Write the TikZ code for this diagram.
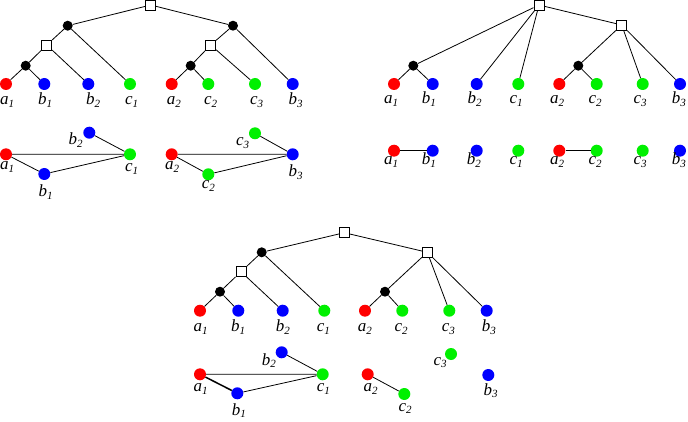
\documentclass[tikz,border=0pt]{standalone}
\usepackage{fontspec}
\setmainfont{Liberation Serif}
\definecolor{lr}{RGB}{255,0,0}
\definecolor{lb}{RGB}{0,0,255}
\definecolor{lg}{RGB}{0,240,0}
\newcommand{\mylab}[2]{{\itshape #1\raisebox{-2.5pt}{\fontsize{11}{11}\selectfont #2}}}
\begin{document}
\begin{tikzpicture}[x=1pt,y=-1pt,
  leafr/.style={circle,fill=lr,minimum size=12pt,inner sep=0},
  leafb/.style={circle,fill=lb,minimum size=12pt,inner sep=0},
  leafg/.style={circle,fill=lg,minimum size=12pt,inner sep=0},
  bk/.style={circle,fill=black,minimum size=10pt,inner sep=0},
  sq/.style={rectangle,draw=black,fill=white,line width=0.9pt,minimum size=10pt,inner sep=0},
  lbl/.style={anchor=base west,inner sep=0,font=\fontsize{17}{17}\selectfont},
  ed/.style={draw=black,line width=0.8pt}]
\useasboundingbox (0,0) rectangle (688,422);

% ---------- Panel 1 tree ----------
\node[sq] (t1r) at (150.7,5) {};
\node[bk] (t1l) at (67.7,25.7) {};
\node[bk] (t1rr) at (233,25.7) {};
\node[sq] (t1sl) at (46.7,45) {};
\node[sq] (t1sr) at (210.7,45) {};
\node[bk] (t1kl) at (25.7,65.7) {};
\node[bk] (t1kr) at (190.7,65.7) {};
\node[leafr] (t1a1) at (6,84) {};
\node[leafb] (t1b1) at (44.3,84) {};
\node[leafb] (t1b2) at (88.3,84) {};
\node[leafg] (t1c1) at (130,84) {};
\node[leafr] (t1a2) at (171.7,84) {};
\node[leafg] (t1c2) at (208.3,84) {};
\node[leafg] (t1c3) at (255,84) {};
\node[leafb] (t1b3) at (292.7,84) {};
\path[ed] (t1r)--(t1l) (t1r)--(t1rr) (t1l)--(t1sl) (t1l)--(t1c1)
  (t1sl)--(t1kl) (t1sl)--(t1b2) (t1kl)--(t1a1) (t1kl)--(t1b1)
  (t1rr)--(t1sr) (t1rr)--(t1b3) (t1sr)--(t1kr) (t1sr)--(t1c3)
  (t1kr)--(t1a2) (t1kr)--(t1c2);
\node[lbl] (l1a1) at (0,105) {\mylab{a}{1}};
\node[lbl] (l1b1) at (38,105) {\mylab{b}{1}};
\node[lbl] (l1b2) at (86,105) {\mylab{b}{2}};
\node[lbl] (l1c1) at (125,105) {\mylab{c}{1}};
\node[lbl] (l1a2) at (166.7,105) {\mylab{a}{2}};
\node[lbl] (l1c2) at (204,105) {\mylab{c}{2}};
\node[lbl] (l1c3) at (250,105) {\mylab{c}{3}};
\node[lbl] (l1b3) at (288.3,105) {\mylab{b}{3}};

% ---------- Panel 1 graphs ----------
\node[leafr] (g1a1) at (6,154.3) {};
\node[leafb] (g1b1) at (44.3,174) {};
\node[leafb] (g1b2) at (89.3,132.7) {};
\node[leafg] (g1c1) at (130,154.3) {};
\path[ed] (g1a1)--(g1c1) (g1a1)--(g1b1) (g1b1)--(g1c1) (g1b2)--(g1c1);
\node[leafr] (g1a2) at (171.7,154.3) {};
\node[leafg] (g1c2) at (208.3,174.3) {};
\node[leafg] (g1c3) at (255,133.3) {};
\node[leafb] (g1b3) at (292.7,154.3) {};
\path[ed] (g1a2)--(g1b3) (g1a2)--(g1c2) (g1c2)--(g1b3) (g1c3)--(g1b3);
\node[lbl] (m1a1) at (0,170) {\mylab{a}{1}};
\node[lbl] (m1b1) at (38.3,196.7) {\mylab{b}{1}};
\node[lbl] (m1b2) at (68.3,145) {\mylab{b}{2}};
\node[lbl] (m1c1) at (125,171.7) {\mylab{c}{1}};
\node[lbl] (m1a2) at (165,170) {\mylab{a}{2}};
\node[lbl] (m1c2) at (201.7,189) {\mylab{c}{2}};
\node[lbl] (m1c3) at (236,145.7) {\mylab{c}{3}};
\node[lbl] (m1b3) at (288.3,176.7) {\mylab{b}{3}};

% ---------- Panel 2 tree ----------
\node[sq] (t2r) at (539,5) {};
\node[sq] (t2s) at (621.7,25) {};
\node[bk] (t2kl) at (413.3,65.7) {};
\node[bk] (t2kr) at (578.3,65.7) {};
\node[leafr] (t2a1) at (394,84) {};
\node[leafb] (t2b1) at (432.7,84) {};
\node[leafb] (t2b2) at (476.7,84) {};
\node[leafg] (t2c1) at (518.3,84) {};
\node[leafr] (t2a2) at (559.3,84) {};
\node[leafg] (t2c2) at (596.7,84) {};
\node[leafg] (t2c3) at (642.7,84) {};
\node[leafb] (t2b3) at (680,84) {};
\path[ed] (t2r)--(t2kl) (t2r)--(t2b2) (t2r)--(t2c1) (t2r)--(t2s)
  (t2kl)--(t2a1) (t2kl)--(t2b1) (t2s)--(t2kr) (t2s)--(t2c3) (t2s)--(t2b3)
  (t2kr)--(t2a2) (t2kr)--(t2c2);
\node[lbl] (l2a1) at (384,104) {\mylab{a}{1}};
\node[lbl] (l2b1) at (421.7,104) {\mylab{b}{1}};
\node[lbl] (l2b2) at (467.3,104) {\mylab{b}{2}};
\node[lbl] (l2c1) at (509.3,104) {\mylab{c}{1}};
\node[lbl] (l2a2) at (550,104) {\mylab{a}{2}};
\node[lbl] (l2c2) at (588.3,104) {\mylab{c}{2}};
\node[lbl] (l2c3) at (633.3,104) {\mylab{c}{3}};
\node[lbl] (l2b3) at (671.7,104) {\mylab{b}{3}};

% ---------- Panel 2 row ----------
\node[leafr] (g2a1) at (394,150.7) {};
\node[leafb] (g2b1) at (432.7,150.7) {};
\node[leafb] (g2b2) at (476.7,150.7) {};
\node[leafg] (g2c1) at (518.3,150.7) {};
\node[leafr] (g2a2) at (559.3,150.7) {};
\node[leafg] (g2c2) at (596.7,150.7) {};
\node[leafg] (g2c3) at (642.7,150.7) {};
\node[leafb] (g2b3) at (680,150.7) {};
\path[ed] (g2a1)--(g2b1) (g2a2)--(g2c2);
\node[lbl] (m2a1) at (384,165) {\mylab{a}{1}};
\node[lbl] (m2b1) at (421.7,165) {\mylab{b}{1}};
\node[lbl] (m2b2) at (466.7,165) {\mylab{b}{2}};
\node[lbl] (m2c1) at (509.3,165) {\mylab{c}{1}};
\node[lbl] (m2a2) at (550,165) {\mylab{a}{2}};
\node[lbl] (m2c2) at (588.3,165) {\mylab{c}{2}};
\node[lbl] (m2c3) at (633.3,165) {\mylab{c}{3}};
\node[lbl] (m2b3) at (671.7,165) {\mylab{b}{3}};

% ---------- Panel 3 tree ----------
\node[sq] (t3r) at (344.3,232.7) {};
\node[bk] (t3l) at (261.7,252.3) {};
\node[sq] (t3s) at (427.3,252.3) {};
\node[sq] (t3sl) at (241,271.7) {};
\node[bk] (t3kl) at (220,291.7) {};
\node[bk] (t3kr) at (385,291.7) {};
\node[leafr] (t3a1) at (200,310.7) {};
\node[leafb] (t3b1) at (238.3,310.7) {};
\node[leafb] (t3b2) at (282.7,310.7) {};
\node[leafg] (t3c1) at (324.3,310.7) {};
\node[leafr] (t3a2) at (365,310.7) {};
\node[leafg] (t3c2) at (402.3,310.7) {};
\node[leafg] (t3c3) at (449.3,310.7) {};
\node[leafb] (t3b3) at (486.7,310.7) {};
\path[ed] (t3r)--(t3l) (t3r)--(t3s) (t3l)--(t3sl) (t3l)--(t3c1)
  (t3sl)--(t3kl) (t3sl)--(t3b2) (t3kl)--(t3a1) (t3kl)--(t3b1)
  (t3s)--(t3kr) (t3s)--(t3c3) (t3s)--(t3b3) (t3kr)--(t3a2) (t3kr)--(t3c2);
\node[lbl] (l3a1) at (193.3,331.7) {\mylab{a}{1}};
\node[lbl] (l3b1) at (231,331.7) {\mylab{b}{1}};
\node[lbl] (l3b2) at (275.7,331.7) {\mylab{b}{2}};
\node[lbl] (l3c1) at (316.7,331.7) {\mylab{c}{1}};
\node[lbl] (l3a2) at (357.7,331.7) {\mylab{a}{2}};
\node[lbl] (l3c2) at (394.3,331.7) {\mylab{c}{2}};
\node[lbl] (l3c3) at (441.7,331.7) {\mylab{c}{3}};
\node[lbl] (l3b3) at (481.7,331.7) {\mylab{b}{3}};

% ---------- Panel 3 graph ----------
\node[leafr] (g3a1) at (200,374.3) {};
\node[leafb] (g3b1) at (237.3,393.3) {};
\node[leafb] (g3b2) at (281.7,352.3) {};
\node[leafg] (g3c1) at (322.7,374.3) {};
\node[leafr] (g3a2) at (367.7,374.3) {};
\node[leafg] (g3c2) at (404.3,394) {};
\node[leafg] (g3c3) at (451,354) {};
\node[leafb] (g3b3) at (488.3,375) {};
\path[ed] (g3a1)--(g3c1) (g3b1)--(g3c1) (g3b2)--(g3c1) (g3a2)--(g3c2);
\path[ed,line width=1.5pt] (g3a1)--(g3b1);
\node[lbl] (m3a1) at (193.3,391.7) {\mylab{a}{1}};
\node[lbl] (m3b1) at (231.7,415) {\mylab{b}{1}};
\node[lbl] (m3b2) at (261.7,365) {\mylab{b}{2}};
\node[lbl] (m3c1) at (316.7,391.7) {\mylab{c}{1}};
\node[lbl] (m3a2) at (363.3,391.7) {\mylab{a}{2}};
\node[lbl] (m3c2) at (398.3,411) {\mylab{c}{2}};
\node[lbl] (m3c3) at (433.3,365) {\mylab{c}{3}};
\node[lbl] (m3b3) at (483.3,395) {\mylab{b}{3}};
\end{tikzpicture}
\end{document}
